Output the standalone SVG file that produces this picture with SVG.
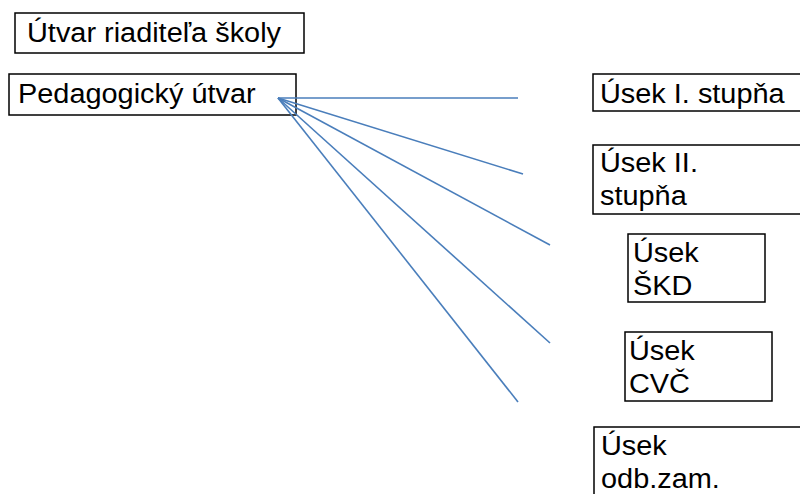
<svg xmlns="http://www.w3.org/2000/svg" width="800" height="494" viewBox="0 0 800 494">
<style>
.box{fill:#fff;stroke:#000;stroke-width:1.5}
.t{font-family:"Liberation Sans",Arial,sans-serif;font-size:27px;fill:#000}
.c{stroke:#4a7ebb;stroke-width:1.6;fill:none}
</style>
<rect width="800" height="494" fill="#fff"/>
<g id="n1"><rect class="box" x="15" y="13" width="289" height="40"/><text class="t" transform="translate(27,42) scale(1.07,1)">Útvar riaditeľa školy</text></g>
<g id="n2"><rect class="box" x="9" y="74" width="287" height="41"/><text class="t" transform="translate(18,103) scale(1.07,1)">Pedagogický útvar</text></g>
<g id="n3"><rect class="box" x="593" y="74" width="210" height="37"/><text class="t" transform="translate(600,103) scale(1.07,1)">Úsek I. stupňa</text></g>
<g id="n4"><rect class="box" x="593" y="145" width="210" height="69"/><text class="t" transform="translate(600,172) scale(1.07,1)">Úsek II.</text><text class="t" transform="translate(600,205) scale(1.07,1)">stupňa</text></g>
<g id="n5"><rect class="box" x="628" y="234" width="137" height="68"/><text class="t" transform="translate(633,262) scale(1.07,1)">Úsek</text><text class="t" transform="translate(633,295) scale(1.07,1)">ŠKD</text></g>
<g id="n6"><rect class="box" x="625" y="332" width="147" height="69"/><text class="t" transform="translate(629,360) scale(1.07,1)">Úsek</text><text class="t" transform="translate(629,393) scale(1.07,1)">CVČ</text></g>
<g id="n7"><rect class="box" x="594" y="427" width="210" height="80"/><text class="t" transform="translate(601,455) scale(1.07,1)">Úsek</text><text class="t" transform="translate(601,488) scale(1.07,1)">odb.zam.</text></g>
<g id="connectors">
<line class="c" x1="278" y1="98" x2="518" y2="98"/>
<line class="c" x1="278" y1="98" x2="523" y2="174"/>
<line class="c" x1="278" y1="98" x2="550" y2="245"/>
<line class="c" x1="278" y1="98" x2="550" y2="343"/>
<line class="c" x1="278" y1="98" x2="518" y2="402"/>
</g>
</svg>
